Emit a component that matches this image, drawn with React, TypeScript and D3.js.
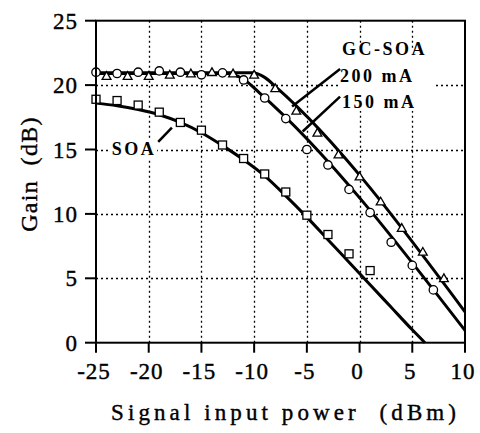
import React from "react";
import * as d3 from "d3";

// ---- data ----
const xTicks = [-25, -20, -15, -10, -5, 0, 5, 10];
const yTicks = [0, 5, 10, 15, 20, 25];

// GC-SOA 150 mA (circles)
const c150X = [-25, -23, -21, -19, -17, -15, -13, -11, -9, -7, -5, -3, -1, 1, 3, 5, 7];
const c150Y = [21.0, 20.9, 21.0, 21.1, 21.0, 20.8, 20.95, 20.4, 19.0, 17.4, 15.0, 13.8, 11.9, 10.1, 7.8, 6.0, 4.1];
// GC-SOA 200 mA (triangles)
const t200X = [-24, -22, -20, -18, -16, -14, -12, -10, -8, -6, -4, -2, 0, 2, 4, 6, 8];
const t200Y = [20.7, 20.7, 20.7, 20.8, 20.9, 21.0, 20.9, 20.8, 19.75, 18.0, 16.3, 14.6, 12.9, 10.95, 8.9, 7.05, 5.0];
// SOA (squares)
const soaX = [-25, -23, -21, -19, -17, -15, -13, -11, -9, -7, -5, -3, -1, 1];
const soaY = [18.9, 18.8, 18.45, 17.9, 17.1, 16.5, 15.35, 14.3, 13.1, 11.7, 9.9, 8.4, 6.9, 5.6];

// fitted curves
const fit200X = [-25, -10.2, -9, -8, 10];
const fit200Y = [20.95, 20.95, 20.6, 19.9, 2.4];
const fit150X = [-25, -12.5, -11, -9.5, 10];
const fit150Y = [20.9, 20.9, 20.45, 19.4, 0.95];
const fitSoaX = [-25, -23, -21, -19, -17, -15, -13, -11, -9, -7, -5, -3, -1, 1, 3, 5, 6.2];
const fitSoaY = [18.6, 18.4, 18.1, 17.7, 17.1, 16.3, 15.3, 14.2, 12.95, 11.4, 9.75, 8.0, 6.25, 4.5, 2.75, 1.0, 0];

const W = 480;
const H = 433;
const FONT = "Liberation Serif, Times New Roman, serif";

export default function App() {
  const x = d3.scaleLinear().domain([-25, 10]).range([96, 465]);
  const y = d3.scaleLinear().domain([0, 25]).range([342.7, 20.7]);

  const line = d3
    .line<[number, number]>()
    .x((d) => x(d[0]))
    .y((d) => y(d[1]))
    .curve(d3.curveMonotoneX);

  const zip = (a: number[], b: number[]) => a.map((v, i) => [v, b[i]] as [number, number]);

  const f200 = line(zip(fit200X, fit200Y)) || "";
  const f150 = line(zip(fit150X, fit150Y)) || "";
  const fSoa = line(zip(fitSoaX, fitSoaY)) || "";

  const interp = (xs: number[], ys: number[], v: number) => {
    for (let i = 0; i < xs.length - 1; i++) {
      if (v >= xs[i] && v <= xs[i + 1]) {
        const t = (v - xs[i]) / (xs[i + 1] - xs[i]);
        return ys[i] + t * (ys[i + 1] - ys[i]);
      }
    }
    return ys[ys.length - 1];
  };

  const [x0, x1] = x.range();
  const [y0, y1] = y.range();
  const snap = (v: number) => Math.round(v) + 0.5;

  const tri = (cx: number, cy: number) => {
    const s = 4.4;
    return `M${cx},${cy - s}L${cx + s},${cy + s * 0.75}L${cx - s},${cy + s * 0.75}Z`;
  };

  return (
    <svg
      width={W}
      height={H}
      style={{ position: "absolute", left: 0, top: 0, background: "#fff" }}
    >
      <rect x={0} y={0} width={W} height={H} fill="#fff" />
      {/* grid */}
      <g stroke="#000" strokeWidth={1.3} strokeDasharray="2,3" fill="none">
        {xTicks.slice(1, -1).map((t) => (
          <line key={"gx" + t} x1={snap(x(t))} x2={snap(x(t))} y1={y1} y2={y0} />
        ))}
        {yTicks.slice(1, -1).map((t) => (
          <line key={"gy" + t} x1={x0} x2={x1} y1={snap(y(t))} y2={snap(y(t))} />
        ))}
      </g>
      {/* label backgrounds */}
      <rect x={x(-1.95)} y={y(22.85)} width={x(7.05) - x(-1.95)} height={y(18.0) - y(22.85)} fill="#fff" />
      <rect x={x(-23.7)} y={y(15.75)} width={x(-19.2) - x(-23.7)} height={y(14.2) - y(15.75)} fill="#fff" />

      {/* fitted curves */}
      <g fill="none" stroke="#000" strokeWidth={3}>
        <path d={f200} />
        <path d={f150} />
        <path d={fSoa} />
      </g>

      {/* markers */}
      <g fill="#fff" stroke="#000" strokeWidth={1.3}>
        {c150X.map((v, i) => (
          <circle key={"c" + i} cx={x(v)} cy={y(c150Y[i])} r={4.2} />
        ))}
        {t200X.map((v, i) => (
          <path key={"t" + i} d={tri(x(v), y(t200Y[i]))} />
        ))}
        {soaX.map((v, i) => (
          <rect key={"s" + i} x={x(v) - 4} y={y(soaY[i]) - 4} width={8} height={8} />
        ))}
      </g>

      {/* frame */}
      <rect x={x0} y={y1} width={x1 - x0} height={y0 - y1} fill="none" stroke="#000" strokeWidth={2} />
      {/* ticks */}
      <g stroke="#000" strokeWidth={2}>
        {yTicks.map((t) => (
          <line key={"ty" + t} x1={x0 - 11} x2={x0} y1={y(t)} y2={y(t)} />
        ))}
        {xTicks.map((t) => (
          <line key={"tx" + t} x1={x(t)} x2={x(t)} y1={y0} y2={y0 + 10} />
        ))}
      </g>
      {/* tick labels */}
      <g fontFamily={FONT} fontSize={23} letterSpacing={1} fill="#000" stroke="#000" strokeWidth={0.4}>
        {yTicks.map((t) => (
          <text key={"ly" + t} x={x0 - 18} y={y(t)} dy="0.35em" textAnchor="end">
            {t}
          </text>
        ))}
        {xTicks.map((t) => (
          <text key={"lx" + t} x={x(t) - 2} y={379} textAnchor="middle">
            {t}
          </text>
        ))}
      </g>
      {/* axis titles */}
      <text
        x={111}
        y={420}
        textAnchor="start"
        fontFamily={FONT}
        fontSize={23}
        letterSpacing={4.1}
        stroke="#000"
        strokeWidth={0.4}
        style={{ whiteSpace: "pre" }}
      >
        Signal input power  (dBm)
      </text>
      <text
        transform={`translate(37,${174}) rotate(-90)`}
        textAnchor="middle"
        fontFamily={FONT}
        fontSize={24}
        letterSpacing={1.3}
        stroke="#000"
        strokeWidth={0.4}
        style={{ whiteSpace: "pre" }}
      >
        Gain  (dB)
      </text>

      {/* annotations */}
      <g fontFamily={FONT} fontWeight={700} fontSize={18} letterSpacing={2.5}>
        <text x={x(-1.66)} y={y(22.34)}>GC-SOA</text>
        <text x={x(-1.85)} y={y(20.24)}>200 mA</text>
        <text x={x(-1.66)} y={y(18.22)}>150 mA</text>
        <text x={x(-23.5)} y={y(14.57)}>SOA</text>
      </g>
      <g stroke="#000" strokeWidth={2.5}>
        <line x1={x(-1.85)} y1={y(21.25)} x2={x(-6.4)} y2={y(interp(fit200X, fit200Y, -6.4))} />
        <line x1={x(-1.85)} y1={y(19.1)} x2={x(-5.4)} y2={y(16.4)} />
        <line x1={x(-19.1)} y1={y(15.6)} x2={x(-17.8)} y2={y(16.7)} />
      </g>
    </svg>
  );
}
